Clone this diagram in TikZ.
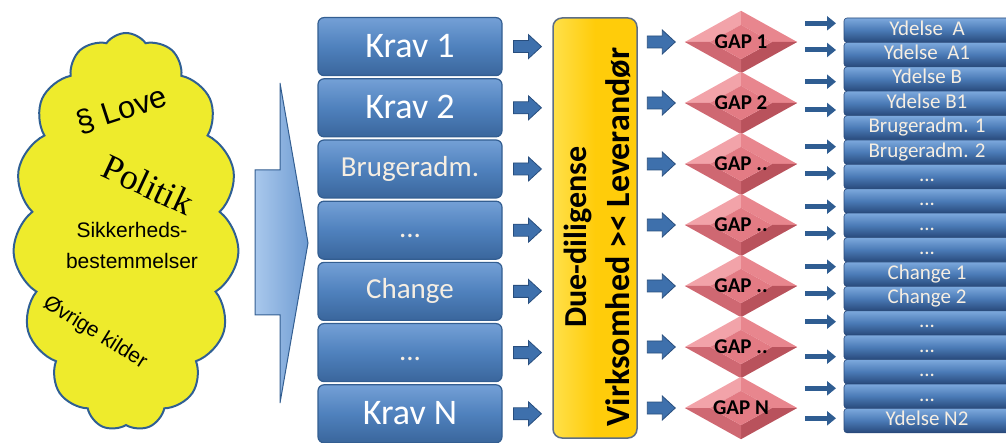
\documentclass[tikz,border=0pt]{standalone}
\usepackage{fontspec}
\setmainfont{Carlito}
\newfontfamily\lsans{Liberation Sans}
\newfontfamily\lserif{Liberation Serif}
\usetikzlibrary{shapes.geometric,shapes.symbols,arrows.meta,calc,backgrounds}
\newcommand\mydots{...}
\definecolor{kblue}{HTML}{4F81BD}
\definecolor{kbluelt}{HTML}{74A0D6}
\definecolor{kbluedk}{HTML}{3A669C}
\definecolor{kedge}{HTML}{335E91}
\definecolor{ybluelt}{HTML}{7DA9DD}
\definecolor{yblue}{HTML}{4A7AB6}
\definecolor{ybluedk}{HTML}{28497A}
\definecolor{ddyel}{HTML}{FFCC0A}
\definecolor{ddyellt}{HTML}{FFE04A}
\definecolor{ddedge}{HTML}{5D6E86}
\definecolor{cloudyel}{HTML}{EEEB2C}
\definecolor{cloudedge}{HTML}{2F5F94}
\definecolor{gtl}{HTML}{F2A3A9}
\definecolor{gtr}{HTML}{E8868E}
\definecolor{gbr}{HTML}{B9525C}
\definecolor{gbl}{HTML}{CF6872}
\definecolor{gmid}{HTML}{E37B84}
\definecolor{arrblue}{HTML}{3E70AC}
\definecolor{arredge}{HTML}{284E7E}
\definecolor{rarrblue}{HTML}{2F5D92}
\definecolor{bigarrlt}{HTML}{A9C8EC}
\definecolor{bigarr}{HTML}{6E9BD2}
\definecolor{creamtext}{HTML}{F6EEE2}
\begin{document}
\begin{tikzpicture}[x=1pt,y=-1pt,
  kbox/.style={rounded corners=6pt, draw=kedge, line width=1.2pt,
    top color=kbluelt, bottom color=kbluedk, middle color=kblue,
    minimum width=184pt, minimum height=58pt, inner sep=0pt, text=white,
    text height=24pt, text depth=2pt},
  kbig/.style={font=\fontsize{36}{40}\selectfont},
  ksmall/.style={font=\fontsize{29}{32}\selectfont, text=creamtext, text height=20pt, text depth=5pt},
  ybar/.style={rounded corners=3pt, draw=ybluedk, line width=0.6pt,
    top color=ybluelt, bottom color=ybluedk, middle color=yblue,
    minimum width=166pt, minimum height=24.4pt, inner sep=0pt, text=creamtext,
    font=\fontsize{21}{22}\selectfont, text height=14pt, text depth=4pt},
  ddbox/.style={rounded corners=9pt, draw=ddedge, line width=1.5pt,
    left color=ddyellt, right color=ddyel, middle color=ddyel,
    minimum width=84pt, minimum height=420pt, inner sep=0pt},
  gapd/.style={diamond, minimum width=112pt, minimum height=62pt, inner sep=0pt,
    font=\bfseries\fontsize{21}{22}\selectfont},
  rarr/.style={draw=rarrblue, line width=5pt, -{Triangle[length=9pt,width=14pt]}},
  barrow/.pic={\fill[arrblue, draw=arredge, line width=0.8pt]
     (-14,-6) -- (1,-6) -- (1,-12) -- (14,0) -- (1,12) -- (1,6) -- (-14,6) -- cycle;},
  cloudtext/.style={font=\lsans\fontsize{21}{31}\selectfont, align=center, inner sep=0pt}
]
\useasboundingbox (0,0) rectangle (1006,443);

% cloud
\node[cloud, cloud puffs=15, cloud puff arc=110, cloud ignores aspect, draw=cloudedge, line width=2pt,
  fill=cloudyel, minimum width=226pt, minimum height=398pt, inner sep=0pt] (cl) at (126,232) {};
\node[cloudtext, font=\lsans\fontsize{31}{34}\selectfont, rotate=18] (love) at (122,110) {§ Love};
\node[cloudtext, font=\lserif\fontsize{36}{40}\selectfont, rotate=-25] (pol) at (148,185) {Politik};
\node[cloudtext] (sik) at (132,245) {Sikkerheds-\\bestemmelser};
\node[cloudtext, font=\lsans\fontsize{21}{24}\selectfont, rotate=-32] (ovr) at (95,333) {Øvrige kilder};

% big arrow
\path[draw=kedge, line width=1pt, left color=bigarrlt, right color=bigarr]
  (255,170) -- (280,170) -- (280,83) -- (308,243) -- (280,403) -- (280,315) -- (255,315) -- cycle;

% krav boxes
\node[kbox, kbig]   (k1) at (410,46.6)  {Krav 1};
\node[kbox, kbig]   (k2) at (410,107.8) {Krav 2};
\node[kbox, ksmall] (k3) at (410,169.0) {Brugeradm.};
\node[kbox, ksmall] (k4) at (410,230.2) {\mydots};
\node[kbox, ksmall] (k5) at (410,291.4) {Change};
\node[kbox, ksmall] (k6) at (410,352.6) {\mydots};
\node[kbox, kbig]   (k7) at (410,413.8) {Krav N};

% due diligence box
\node[ddbox] (dd) at (595,228) {};
\node[rotate=90, align=center, inner sep=0pt, font=\bfseries\fontsize{32}{43}\selectfont] (ddt) at (597,237)
  {Due-diligense\\{\fontsize{34}{43}\selectfont Virksomhed >< Leverandør}};

% gaps
\node[gapd] (g1) at (741,42)  {\makebox[0pt]{GAP 1}};
\node[gapd] (g2) at (741,103) {\makebox[0pt]{GAP 2}};
\node[gapd] (g3) at (741,164) {\makebox[0pt]{GAP ..}};
\node[gapd] (g4) at (741,225) {\makebox[0pt]{GAP ..}};
\node[gapd] (g5) at (741,286) {\makebox[0pt]{GAP ..}};
\node[gapd] (g6) at (741,347) {\makebox[0pt]{GAP ..}};
\node[gapd] (g7) at (741,408) {\makebox[0pt]{GAP N}};
\begin{scope}[on background layer]
\foreach \i in {1,2,3,4,5,6,7}{
  \coordinate (in\i) at ($(g\i.center)!0.55!(g\i.north)$);
  \coordinate (ie\i) at ($(g\i.center)!0.55!(g\i.east)$);
  \coordinate (is\i) at ($(g\i.center)!0.55!(g\i.south)$);
  \coordinate (iw\i) at ($(g\i.center)!0.55!(g\i.west)$);
  \fill[gtl] (g\i.west) -- (g\i.north) -- (in\i) -- (iw\i) -- cycle;
  \fill[gtr] (g\i.north) -- (g\i.east) -- (ie\i) -- (in\i) -- cycle;
  \fill[gbr] (g\i.east) -- (g\i.south) -- (is\i) -- (ie\i) -- cycle;
  \fill[gbl] (g\i.south) -- (g\i.west) -- (iw\i) -- (is\i) -- cycle;
  \fill[gmid] (in\i) -- (ie\i) -- (is\i) -- (iw\i) -- cycle;
}
\end{scope}

% block arrows krav -> due diligence
\foreach \i in {1,2,3,4,5,6,7}{
  \pic at ($(k\i.east)!0.5!(dd.west |- k\i.east)$) {barrow};
}
% block arrows due diligence -> gaps
\foreach \i in {1,2,3,4,5,6,7}{
  \pic at ($(dd.east |- g\i.west)!0.5!(g\i.west)$) {barrow};
}

% right bars
\foreach \t [count=\i from 0] in {Ydelse\ \ A, Ydelse\ \ A1, Ydelse B, Ydelse B1, Brugeradm. 1, Brugeradm. 2, \mydots, \mydots, \mydots, \mydots, Change 1, Change 2, \mydots, \mydots, \mydots, \mydots, Ydelse N2}{
  \node[ybar] (y\i) at (927,{30.2+24.4*\i}) {\t};
}

% right arrows
\foreach \yy [count=\j] in {23.3,50,81.7,110,146.7,173.3,206.7,233.3,266.7,293.3,321.7,356.7,388.3,418.3}{
  \coordinate (ra\j) at (805,\yy);
  \coordinate (rb\j) at (836,\yy);
  \draw[rarr] (ra\j) -- (rb\j);
}
\end{tikzpicture}
\end{document}
